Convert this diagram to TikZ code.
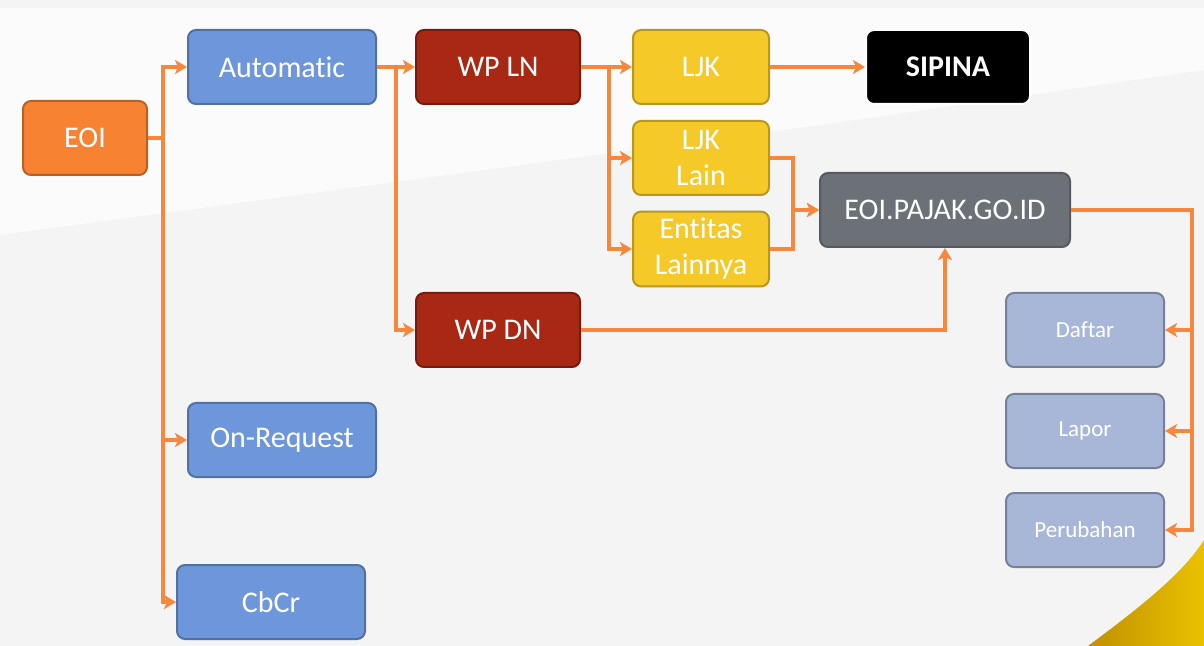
\documentclass[tikz,border=0pt]{standalone}
\usepackage{fontspec}
\setmainfont{Carlito}[Ligatures=NoCommon]
\usetikzlibrary{arrows.meta}
\definecolor{OR}{RGB}{247,135,60}
\definecolor{EOIc}{RGB}{246,130,50}
\definecolor{BL}{RGB}{110,150,218}
\definecolor{RD}{RGB}{168,40,20}
\definecolor{YL}{RGB}{245,202,40}
\definecolor{GR}{RGB}{108,113,120}
\definecolor{LB}{RGB}{168,183,216}
\definecolor{GD}{RGB}{226,168,0}
\tikzset{
  box/.style={rounded corners=4pt, line width=1pt, text=white, align=center,
              minimum height=37pt, font=\fontsize{15}{18}\selectfont},
  link/.style={OR, line width=1.8pt, -{Stealth[length=6pt,width=7pt,inset=1.5pt]}},
}

\begin{document}
\begin{tikzpicture}[x=0.5pt,y=-0.5pt]
      \useasboundingbox (0,0) rectangle (1204,646);
      % background
      \fill[white!91!gray] (0,0) rectangle (1204,646);
      \fill[white!97!gray] (0,8) -- (1204,8) -- (1204,70) -- (820,125) -- (0,235) -- cycle;
      \shade[left color=GD!85!black, right color=GD!70!yellow] (1088,646) .. controls (1150,600) and (1185,570) .. (1204,540) -- (1204,646) -- cycle;
      % nodes
      \node[box, fill=EOIc, draw=EOIc!75!black, minimum width=62pt] (eoi) at (85,138) {EOI};
      \node[box, fill=BL, draw=BL!75!black, minimum width=94pt] (auto) at (282,67) {Automatic};
      \node[box, fill=BL, draw=BL!75!black, minimum width=94pt] (onreq) at (282,440) {On-Request};
      \node[box, fill=BL, draw=BL!75!black, minimum width=94pt] (cbcr) at (271,602) {CbCr};
      \node[box, fill=RD, draw=RD!70!black, minimum width=82pt] (wpln) at (498,67) {WP LN};
      \node[box, fill=RD, draw=RD!70!black, minimum width=82pt] (wpdn) at (498,330) {WP DN};
      \node[box, fill=YL, draw=YL!75!black, minimum width=68pt] (ljk) at (701,67) {LJK};
      \node[box, fill=YL, draw=YL!75!black, minimum width=68pt] (ljklain) at (701,158) {LJK\\Lain};
      \node[box, fill=YL, draw=YL!75!black, minimum width=68pt] (entitas) at (701,249) {Entitas\\Lainnya};
      \node[box, fill=black, draw=white, minimum width=82pt, font=\fontsize{15}{18}\selectfont\bfseries] (sipina) at (948,67) {SIPINA};
      \node[box, fill=GR, draw=GR!80!black, minimum width=125pt] (pajak) at (945,210) {EOI.PAJAK.GO.ID};
      \node[box, fill=LB, draw=LB!70!black, minimum width=79pt, font=\fontsize{11.5}{14}\selectfont] (daftar) at (1085,330) {Daftar};
      \node[box, fill=LB, draw=LB!70!black, minimum width=79pt, font=\fontsize{11.5}{14}\selectfont] (lapor) at (1085,431) {Lapor};
      \node[box, fill=LB, draw=LB!70!black, minimum width=79pt, font=\fontsize{11.5}{14}\selectfont] (perubahan) at (1085,530) {Perubahan};
      % connectors
      \draw[link] (eoi.east) -- ++(15,0) |- (auto.west);
      \draw[link] (eoi.east) -- ++(15,0) |- (onreq.west);
      \draw[link] (eoi.east) -- ++(15,0) |- (cbcr.west);
      \draw[link] (auto.east) -- ++(19,0) |- (wpln.west);
      \draw[link] (auto.east) -- ++(19,0) |- (wpdn.west);
      \draw[link] (wpln.east) -- ++(28,0) |- (ljk.west);
      \draw[link] (wpln.east) -- ++(28,0) |- (ljklain.west);
      \draw[link] (wpln.east) -- ++(28,0) |- (entitas.west);
      \draw[link] (ljk) -- (sipina);
      \draw[link] (ljklain.east) -- ++(23,0) |- (pajak.west);
      \draw[link] (entitas.east) -- ++(23,0) |- (pajak.west);
      \draw[link] (wpdn.east) -| (pajak.south);
      \draw[link] (pajak.east) -- ++(121,0) |- (daftar.east);
      \draw[link] (pajak.east) -- ++(121,0) |- (lapor.east);
      \draw[link] (pajak.east) -- ++(121,0) |- (perubahan.east);
    \end{tikzpicture}
\end{document}
